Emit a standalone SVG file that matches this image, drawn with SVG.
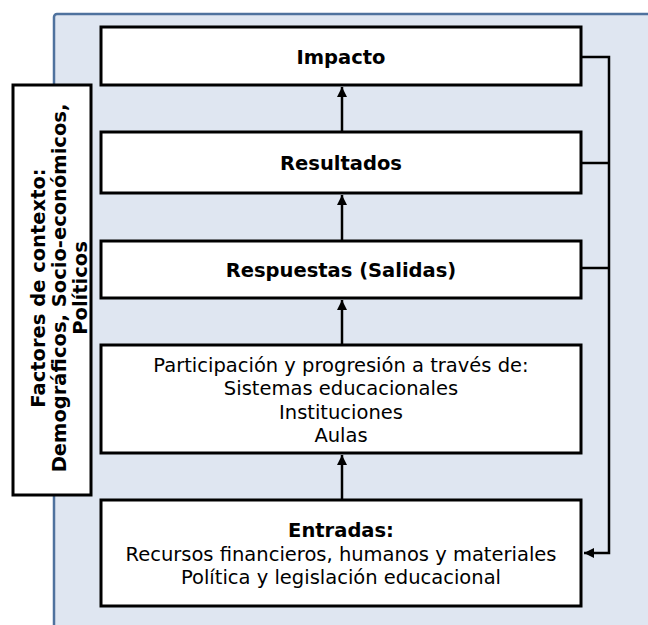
<svg xmlns="http://www.w3.org/2000/svg" width="648" height="625" viewBox="0 0 648 625">
<style>
.box{fill:#fff;stroke:#000;stroke-width:3}
.t{font-family:"DejaVu Sans",Verdana,sans-serif;font-size:19.5px;fill:#000;text-anchor:middle}
.b{font-weight:bold}
.c{fill:none;stroke:#000;stroke-width:2.5}
</style>
<defs>
<marker id="ah" viewBox="0 0 10 10" refX="10" refY="5" markerWidth="4" markerHeight="4" orient="auto" markerUnits="strokeWidth">
<path d="M0,0 L10,5 L0,10 z" fill="#000"/>
</marker>
</defs>
<rect x="54" y="14" width="610" height="625" rx="3" fill="#dfe6f1" stroke="#4f729e" stroke-width="2.5"/>
<g id="connectors">
<line class="c" x1="342" y1="132" x2="342" y2="87" marker-end="url(#ah)"/>
<line class="c" x1="342" y1="241" x2="342" y2="195" marker-end="url(#ah)"/>
<line class="c" x1="342" y1="345" x2="342" y2="300" marker-end="url(#ah)"/>
<line class="c" x1="342" y1="500" x2="342" y2="455" marker-end="url(#ah)"/>
<polyline class="c" points="581,57 609,57 609,553 584,553" marker-end="url(#ah)"/>
<line class="c" x1="581" y1="163" x2="609" y2="163"/>
<line class="c" x1="581" y1="268" x2="609" y2="268"/>
</g>
<g id="impacto">
<rect class="box" x="101" y="27" width="480" height="58"/>
<text class="t b" x="341" y="64">Impacto</text>
</g>
<g id="resultados">
<rect class="box" x="101" y="132" width="480" height="61"/>
<text class="t b" x="341" y="170">Resultados</text>
</g>
<g id="respuestas">
<rect class="box" x="101" y="241" width="480" height="57"/>
<text class="t b" x="341" y="277">Respuestas (Salidas)</text>
</g>
<g id="participacion">
<rect class="box" x="101" y="345" width="480" height="108"/>
<text class="t" x="341" y="371.5">Participación y progresión a través de:</text>
<text class="t" x="341" y="395">Sistemas educacionales</text>
<text class="t" x="341" y="418.5">Instituciones</text>
<text class="t" x="341" y="442">Aulas</text>
</g>
<g id="entradas">
<rect class="box" x="101" y="500" width="480" height="106"/>
<text class="t b" x="341" y="537">Entradas:</text>
<text class="t" x="341" y="560.5">Recursos financieros, humanos y materiales</text>
<text class="t" x="341" y="584">Política y legislación educacional</text>
</g>
<g id="factores">
<rect class="box" x="13" y="85" width="78" height="410"/>
<g transform="translate(51,288) rotate(-90)">
<text class="t b" x="0" y="-6">Factores de contexto:</text>
<text class="t b" x="0" y="15">Demográficos, Socio-económicos,</text>
<text class="t b" x="0" y="36">Políticos</text>
</g>
</g>
</svg>
